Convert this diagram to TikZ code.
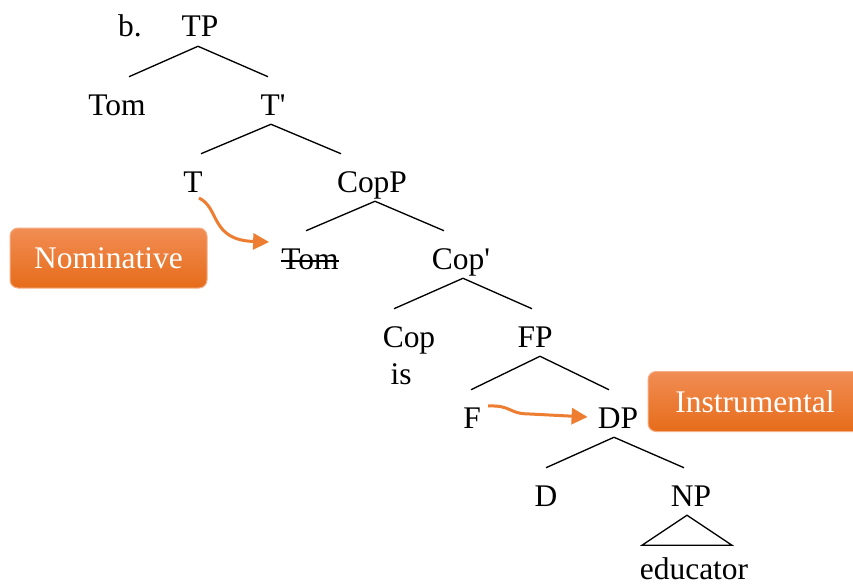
\documentclass[tikz,border=0pt]{standalone}
\usepackage{fontspec}
\setmainfont{Liberation Serif}
\usetikzlibrary{calc,arrows.meta}
\definecolor{caseorange}{HTML}{ED7D31}
\definecolor{boxtop}{HTML}{F18D54}
\definecolor{boxbottom}{HTML}{E66C1A}

\begin{document}
\begin{tikzpicture}[x=0.75pt,y=-0.75pt,
  font=\fontsize{23.6pt}{28pt}\selectfont,
  cat/.style={anchor=base,inner sep=0pt,text height=28.5pt,text depth=6.75pt},
  branch/.style={line width=1pt},
  casearrow/.style={draw=caseorange,line width=2.25pt,-{Triangle[length=12pt,width=12pt]}},
  casebox/.style={rounded corners=6pt,top color=boxtop,bottom color=boxbottom,
    draw=boxtop!70!white,line width=0.75pt,text=white,minimum height=45pt}]

\fill[white] (0,0) rectangle (853,585);
\clip (0,0) rectangle (853,585);

% Tree nodes
\node[cat] (b) at (130,37) {b.};
\node[cat] (TP) at (200,37) {TP};
\node[cat] (Tom) at (117,115) {Tom};
\node[cat] (Tbar) at (273,115) {T\textquotesingle};
\node[cat] (T) at (193,192) {T};
\node[cat] (CopP) at (372,192) {CopP};
\node[cat] (TomCopy) at (310,269) {Tom};
\node[cat] (Copbar) at (461,269) {Cop\textquotesingle};
\node[cat] (Cop) at (409,347) {Cop};
\node[cat] (is) at (401,384) {is};
\node[cat] (FP) at (535,347) {FP};
\node[cat] (F) at (472,428) {F};
\node[cat] (DP) at (618,428) {DP};
\node[cat] (D) at (546,506) {D};
\node[cat] (NP) at (691,506) {NP};
\node[cat] (educator) at (694,579) {educator};

% Branches
\draw[branch] ($(Tom.north)+(12,0)$) -- ($(TP.south)+(-2,0)$) -- ($(Tbar.north)+(-5,0)$);
\draw[branch] ($(T.north)+(8,0)$) -- ($(Tbar.south)+(-2,0)$) -- ($(CopP.north)+(-31,0)$);
\draw[branch] ($(TomCopy.north)+(-4,0)$) -- ($(CopP.south)+(3,0)$) -- ($(Copbar.north)+(-17,0)$);
\draw[branch] ($(Cop.north)+(-15,0)$) -- ($(Copbar.south)+(2,0)$) -- ($(FP.north)+(-3,0)$);
\draw[branch] ($(F.north)+(-1,0)$) -- ($(FP.south)+(5,0)$) -- ($(DP.north)+(-9,0)$);
\draw[branch] (D.north) -- ($(DP.south)+(-4,0)$) -- ($(NP.north)+(-7,0)$);

% Triangle over the NP
\draw[branch] ($(NP.south)+(-4,0)$) -- ++(-45,30) -- ++(90,0) -- cycle;

% Struck-out copy of the subject
\draw[branch] ($(TomCopy.base west)+(0,-8)$) -- ($(TomCopy.base east)+(0,-8)$);

% Case labels
\node[casebox,minimum width=147.75pt] (nom) at (108.5,258) {Nominative};
\node[casebox,minimum width=160.5pt] (instr) at (755,401.5) {Instrumental};

% Case assignment arrows
\draw[casearrow] ($(T.base)+(6,6)$) .. controls (220,208) and (210,240) .. ($(TomCopy.base west)+(-12,-27)$);
\draw[casearrow] ($(F.base east)+(7,-22)$) .. controls (512,405) and (508,414) .. (530,414) -- ($(DP.base west)+(-10,-11)$);

\end{tikzpicture}
\end{document}
